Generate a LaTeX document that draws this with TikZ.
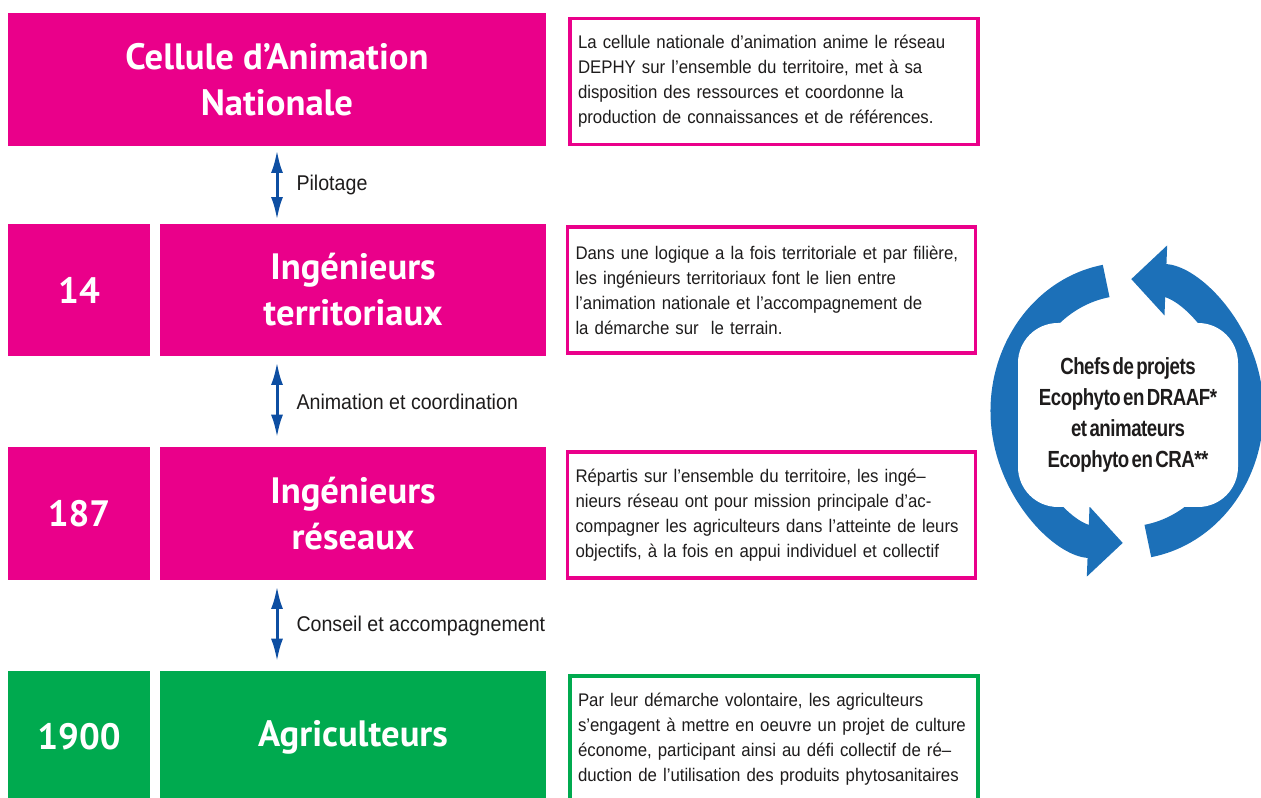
\documentclass[tikz,border=0pt]{standalone}
\usepackage{fontspec}
\setmainfont{Liberation Sans}
\newfontfamily\headfont{PT Sans}
\newfontfamily\descfont{Liberation Sans}[FakeStretch=0.92]
\newfontfamily\chefsfont{Liberation Sans}[FakeStretch=0.8,LetterSpace=-2.0,WordSpace=0.5]
\usepackage{tikz}
\usetikzlibrary{positioning, arrows.meta}
\usepackage{xcolor}

\definecolor{dephyrose}{RGB}{234,0,138}
\definecolor{dephyvert}{RGB}{0,170,79}
\definecolor{flecheblue}{RGB}{13,78,162}
\definecolor{boucleblue}{RGB}{28,112,184}
\definecolor{texte}{RGB}{30,28,28}

\tikzset{
  titrebox/.style={fill=#1, text=white, font=\headfont\bfseries\fontsize{27.5}{34.5}\selectfont,
    align=center, inner sep=0pt, minimum height=99.75pt},
  chiffrebox/.style={titrebox=#1, minimum width=106.5pt},
  descbox/.style={draw=#1, line width=2.6pt, fill=white, text=texte,
    font=\descfont\fontsize{13.7}{18.75}\selectfont, align=left, text width=294pt,
    inner xsep=0pt, minimum width=306pt, minimum height=94.5pt},
  biarrow/.style={draw=flecheblue, line width=2.25pt,
    {Latex[length=17pt,width=9pt]}-{Latex[length=17pt,width=9pt]}},
  lien/.style={font=\descfont\fontsize{16}{18}\selectfont, text=texte, anchor=west, inner sep=0pt},
  boucle/.style={draw=boucleblue, line width=24.75pt, -{Triangle[length=26pt,width=51pt]}},
  chefsbox/.style={fill=white, rounded corners=30pt, minimum width=165pt, minimum height=138pt,
    text=texte, align=center, font=\chefsfont\bfseries\fontsize{17.5}{23.25}\selectfont},
}

\begin{document}
\begin{tikzpicture}[x=0.75pt,y=0.75pt,yscale=-1,xscale=1]
\useasboundingbox (0,0) rectangle (1261,798);

%Shape: Rectangle -- national cell
\node[titrebox=dephyrose, minimum width=403.5pt] (cellule) at (277,79.5) {Cellule d’Animation\\Nationale};
%Shape: Rectangle -- territorial engineers
\node[chiffrebox=dephyrose, minimum height=99pt] (n14) at (79,290) {14};
\node[titrebox=dephyrose, minimum width=289.5pt, minimum height=99pt] (ingterr) at (353,290) {Ingénieurs\\territoriaux};
%Shape: Rectangle -- network engineers
\node[chiffrebox=dephyrose] (n187) at (79,513.5) {187};
\node[titrebox=dephyrose, minimum width=289.5pt] (ingres) at (353,513.5) {Ingénieurs\\réseaux};
%Shape: Rectangle -- farmers
\node[chiffrebox=dephyvert, minimum height=99pt] (n1900) at (79,737) {1900};
\node[titrebox=dephyvert, minimum width=289.5pt, minimum height=99pt] (agri) at (353,737) {Agriculteurs};

% Text Node -- descriptions
\node[descbox=dephyrose] (dcellule) at (774,81.5) {La cellule nationale d’animation anime le réseau\\DEPHY sur l’ensemble du territoire, met à sa\\disposition des ressources et coordonne la\\production de connaissances et de références.};
\node[descbox=dephyrose] (dterr) at (771.5,290) {Dans une logique a la fois territoriale et par filière,\\les ingénieurs territoriaux font le lien entre\\l’animation nationale et l’accompagnement de\\la démarche sur\ \ le terrain.};
\node[descbox=dephyrose] (dres) at (771.5,515) {Répartis sur l’ensemble du territoire, les ingé–\\nieurs réseau ont pour mission principale d’ac-\\compagner les agriculteurs dans l’atteinte de leurs\\objectifs, à la fois en appui individuel et collectif};
\node[descbox=dephyvert] (dagri) at (774,739) {Par leur démarche volontaire, les agriculteurs\\\mbox{s’engagent à mettre en oeuvre un projet de culture}\\économe, participant ainsi au défi collectif de ré–\\duction de l’utilisation des produits phytosanitaires};

%Straight Lines -- links between levels
\draw[biarrow, shorten <=3pt, shorten >=3pt] (cellule.south) -- (cellule.south |- ingterr.north)
  node[lien, midway, xshift=13.5pt] (lpilot) {Pilotage};
\draw[biarrow, shorten <=4.5pt, shorten >=7pt] (cellule.south |- ingterr.south) -- (cellule.south |- ingres.north)
  node[lien, midway, xshift=13.5pt] (lanim) {Animation et coordination};
\draw[biarrow, shorten <=4.5pt, shorten >=7pt] (cellule.south |- ingres.south) -- (cellule.south |- agri.north)
  node[lien, midway, xshift=13.5pt] (lconseil) {Conseil et accompagnement};

%Shape: Arc -- the cycle round the project leaders
\begin{scope}[shift={(1127,411)}, yscale=-1]
  \draw[boucle] (100:120 and 132) arc[start angle=100, end angle=268, x radius=120, y radius=132];
  \draw[boucle] (280:120 and 132) arc[start angle=280, end angle=448, x radius=120, y radius=132];
\end{scope}
% Text Node
\node[chefsbox] (chefs) at (1128,415) {Chefs de projets\\Ecophyto en DRAAF*\\et animateurs\\Ecophyto en CRA**};

\end{tikzpicture}
\end{document}
